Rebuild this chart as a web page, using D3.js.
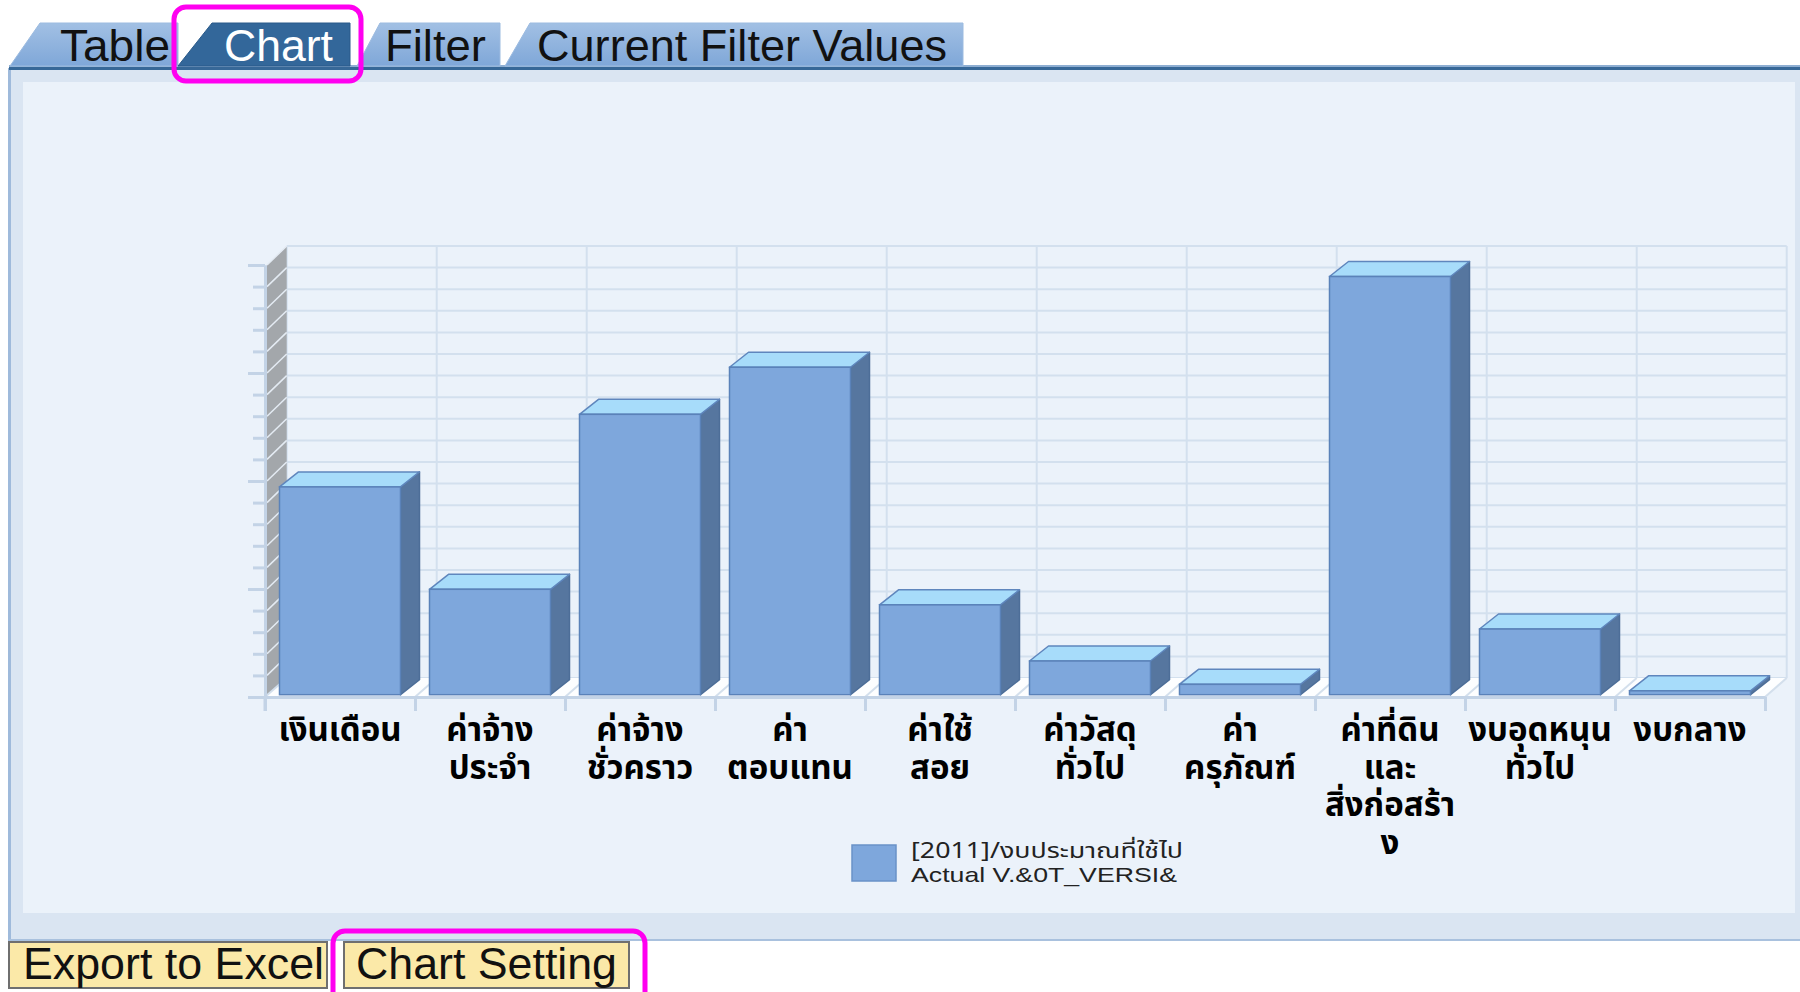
<!DOCTYPE html>
<html><head><meta charset="utf-8">
<script src="https://cdn.jsdelivr.net/npm/d3@7"></script>
<style>
body{margin:0;background:#fff;overflow:hidden}
svg{display:block}
.thai{font-family:"Noto Sans Thai","Tahoma","DejaVu Sans",sans-serif}
</style></head>
<body>
<svg id="c" width="1800" height="992"></svg>
<script>
// ---- data ----
const categories = ["เงินเดือน","ค่าจ้าง\nประจำ","ค่าจ้าง\nชั่วคราว","ค่า\nตอบแทน","ค่าใช้\nสอย","ค่าวัสดุ\nทั่วไป","ค่า\nครุภัณฑ์","ค่าที่ดิน\nและ\nสิ่งก่อสร้า\nง","งบอุดหนุน\nทั่วไป","งบกลาง"];
const values = [48.1, 24.4, 64.9, 75.8, 20.8, 7.8, 2.4, 96.8, 15.2, 0.9];
const seriesLabel = ["[2011]/งบประมาณที่ใช้ไป", "Actual V.&0T_VERSI&"];
const tabs = ["Table", "Chart", "Filter", "Current Filter Values"];
const buttons = ["Export to Excel", "Chart Setting"];
const minorTicks = d3.range(0, 101, 5);
const majorTicks = [0, 25, 50, 75, 100];

const svg = d3.select("#c");
const W = 1800, H = 992;

// ---- page chrome ----
svg.append("rect").attr("width", W).attr("height", H).attr("fill", "#fff");
svg.append("rect").attr("x", 9).attr("y", 68).attr("width", W - 9).attr("height", 873).attr("fill", "#dae5f2");
svg.append("rect").attr("x", 8).attr("y", 68).attr("width", 3).attr("height", 873).attr("fill", "#9fbadb");
svg.append("rect").attr("x", 9).attr("y", 939).attr("width", W - 9).attr("height", 2).attr("fill", "#a9c1de");
svg.append("rect").attr("x", 23).attr("y", 82).attr("width", 1772).attr("height", 831).attr("fill", "#ebf2fa");
svg.append("rect").attr("x", 9).attr("y", 65).attr("width", W - 9).attr("height", 2).attr("fill", "#8eaed2");
svg.append("rect").attr("x", 9).attr("y", 67).attr("width", W - 9).attr("height", 3).attr("fill", "#376898");

// tabs
const defs = svg.append("defs");
const g1 = defs.append("linearGradient").attr("id", "tabg").attr("x1", 0).attr("y1", 0).attr("x2", 0).attr("y2", 1);
g1.append("stop").attr("offset", "0").attr("stop-color", "#a2c0e4");
g1.append("stop").attr("offset", "1").attr("stop-color", "#7fa7d8");
const tabGeom = [
  {x0: 10, x1: 40, x2: 178, tx: 60, tw: 110},
  {x0: 178, x1: 212, x2: 350, tx: 224, tw: 109},
  {x0: 357, x1: 380, x2: 500, tx: 385, tw: 101},
  {x0: 505, x1: 530, x2: 963, tx: 537, tw: 410}
];
const tabG = svg.append("g");
tabs.forEach((t, i) => {
  const g = tabGeom[i];
  const active = t === "Chart";
  tabG.append("path")
    .attr("d", `M${g.x0},66 L${g.x1},23 L${g.x2},23 L${g.x2},66 Z`)
    .attr("fill", active ? "#33679a" : "url(#tabg)")
    .attr("stroke", active ? "#2a5a8a" : "#9cbbe0").attr("stroke-width", 1);
  tabG.append("text").attr("x", g.tx).attr("y", 61)
    .attr("font-family", "Liberation Sans, Arial, sans-serif").attr("font-size", 44)
    .attr("textLength", g.tw).attr("lengthAdjust", "spacingAndGlyphs")
    .attr("fill", active ? "#fff" : "#111").text(t);
});

// buttons
const btnGeom = [{x: 9, w: 318, tx: 23, tw: 301}, {x: 344, w: 285, tx: 356, tw: 261}];
buttons.forEach((b, i) => {
  const g = btnGeom[i];
  svg.append("rect").attr("x", g.x).attr("y", 942).attr("width", g.w).attr("height", 46)
    .attr("fill", "#fbe9a8").attr("stroke", "#6f6f6f").attr("stroke-width", 2);
  svg.append("text").attr("x", g.tx).attr("y", 979)
    .attr("font-family", "Liberation Sans, Arial, sans-serif").attr("font-size", 44)
    .attr("textLength", g.tw).attr("lengthAdjust", "spacingAndGlyphs")
    .attr("fill", "#111").text(b);
});

// ---- chart ----
const x = d3.scaleBand().domain(categories).range([265, 1765]).padding(0);
const xb = d3.scaleLinear().domain([0, categories.length]).range([265, 1765]);
const y = d3.scaleLinear().domain([0, 100]).range([697, 265]);
const DX = 21.7, DY = -19;
const BDX = 19, BDY = -15;
const barOff = 14.5, barW = 121, barLift = 2.3;

const chart = svg.append("g");

// back wall grid
const grid = chart.append("g").attr("stroke", "#d3e0ee").attr("stroke-width", 2);
grid.selectAll("line.h").data(minorTicks).join("line")
  .attr("x1", 265 + DX).attr("x2", 1765 + DX)
  .attr("y1", d => y(d) + DY).attr("y2", d => y(d) + DY);
grid.selectAll("line.v").data(d3.range(0, categories.length + 1)).join("line")
  .attr("x1", d => xb(d) + DX).attr("x2", d => xb(d) + DX)
  .attr("y1", y(100) + DY).attr("y2", y(0) + DY);

// left wall
chart.append("path")
  .attr("d", `M267,${y(100)} L${265 + DX},${y(100) + DY} L${265 + DX},${y(0) + DY} L267,${y(0)} Z`)
  .attr("fill", "#a3a7ab");
chart.append("g").selectAll("line").data(minorTicks).join("line")
  .attr("x1", 267).attr("y1", d => y(d)).attr("x2", 265 + DX).attr("y2", d => y(d) + DY)
  .attr("stroke", "#e4ebf3").attr("stroke-width", 1.5);

// floor
chart.append("path")
  .attr("d", `M265,${y(0)} L1765,${y(0)} L${1765 + DX},${y(0) + DY} L${265 + DX},${y(0) + DY} Z`)
  .attr("fill", "#fdfeff");
chart.append("g").selectAll("line").data(d3.range(0, categories.length + 1)).join("line")
  .attr("x1", d => xb(d)).attr("y1", y(0)).attr("x2", d => xb(d) + DX).attr("y2", y(0) + DY)
  .attr("stroke", "#d3dfec").attr("stroke-width", 2);

// bars
const bars = chart.append("g").selectAll("g").data(values).join("g");
const bx = (d, i) => xb(i) + barOff;
const by = d => y(d) - barLift;
const bb = y(0) - barLift;
bars.append("path")
  .attr("d", (d, i) => { const X = bx(d, i) + barW, T = by(d);
    return `M${X},${T} L${X + BDX},${T + BDY} L${X + BDX},${bb + BDY} L${X},${bb} Z`; })
  .attr("fill", "#56769f").attr("stroke", "#4d6e98").attr("stroke-width", 1.5).attr("stroke-linejoin", "round");
bars.append("path")
  .attr("d", (d, i) => { const X = bx(d, i), T = by(d);
    return `M${X},${T} L${X + BDX},${T + BDY} L${X + barW + BDX},${T + BDY} L${X + barW},${T} Z`; })
  .attr("fill", "#a7dcfa").attr("stroke", "#5f86bd").attr("stroke-width", 1.5).attr("stroke-linejoin", "round");
bars.append("rect")
  .attr("x", (d, i) => bx(d, i)).attr("y", d => by(d))
  .attr("width", barW).attr("height", d => bb - by(d))
  .attr("fill", "#7ea7dc").attr("stroke", "#5a82b9").attr("stroke-width", 1.5);

// axes
const axStyle = g => { g.select(".domain").attr("stroke", "#c3d3e6").attr("stroke-width", 3);
  g.selectAll(".tick line").attr("stroke", "#c3d3e6").attr("stroke-width", 3);
  g.selectAll("text").remove(); };
chart.append("g").attr("transform", "translate(265,0)")
  .call(d3.axisLeft(y).tickValues(minorTicks).tickSize(12).tickSizeOuter(0).tickFormat(""))
  .call(axStyle);
chart.append("g").attr("transform", "translate(265,0)")
  .call(d3.axisLeft(y).tickValues(majorTicks).tickSize(17).tickSizeOuter(0).tickFormat(""))
  .call(axStyle);
chart.append("line").attr("x1", 265).attr("x2", 265).attr("y1", 697).attr("y2", 711)
  .attr("stroke", "#c3d3e6").attr("stroke-width", 3);
chart.append("g").attr("transform", `translate(0,${y(0)})`)
  .call(d3.axisBottom(xb).tickValues(d3.range(0, categories.length + 1)).tickSize(14).tickSizeOuter(0).tickFormat(""))
  .call(axStyle);

// category labels
const lab = chart.append("g").attr("class", "thai").attr("font-weight", "bold")
  .attr("font-size", 33).attr("fill", "#000").attr("text-anchor", "middle");
categories.forEach(c => {
  const cx = x(c) + x.bandwidth() / 2;
  c.split("\n").forEach((ln, k) => {
    lab.append("text").attr("x", cx).attr("y", 741 + k * 37.5).text(ln);
  });
});

// legend
const leg = svg.append("g");
leg.append("rect").attr("x", 852).attr("y", 845).attr("width", 44).attr("height", 36)
  .attr("fill", "#7ea7dc").attr("stroke", "#6a92c8").attr("stroke-width", 1.5);
leg.append("text").attr("class", "thai").attr("x", 911).attr("y", 858).attr("font-size", 21)
  .attr("fill", "#222").attr("textLength", 272).attr("lengthAdjust", "spacingAndGlyphs").text(seriesLabel[0]);
leg.append("text").attr("x", 911).attr("y", 882).attr("font-size", 21)
  .attr("font-family", "Liberation Sans, Arial, sans-serif").attr("fill", "#222")
  .attr("textLength", 266).attr("lengthAdjust", "spacingAndGlyphs").text(seriesLabel[1]);

// highlight boxes
const hl = svg.append("g").attr("fill", "none").attr("stroke", "#ff00f0").attr("stroke-width", 5);
hl.append("rect").attr("x", 174).attr("y", 7).attr("width", 187).attr("height", 74).attr("rx", 12);
hl.append("rect").attr("x", 333).attr("y", 931).attr("width", 312).attr("height", 80).attr("rx", 12);
</script>
</body></html>
